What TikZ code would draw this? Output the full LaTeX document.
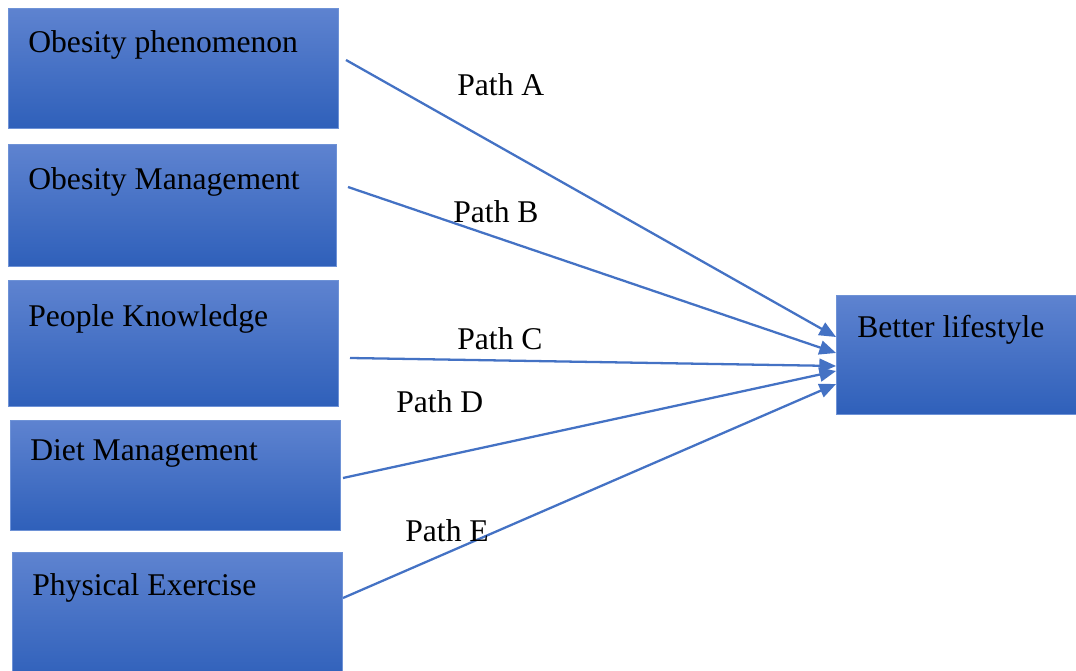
\documentclass[tikz,border=0pt]{standalone}
\usepackage{fontspec}
\setmainfont{Liberation Serif}
\usepackage{xcolor}
\usetikzlibrary{arrows.meta,positioning}

\definecolor{boxtop}{RGB}{94,131,208}
\definecolor{boxbot}{RGB}{47,96,186}
\definecolor{boxline}{RGB}{110,146,214}
\definecolor{pathblue}{RGB}{68,114,196}

\tikzset{
    factor/.style={rectangle, draw=boxline, line width=0.5pt,
        top color=boxtop, bottom color=boxbot, inner sep=0pt},
    boxtext/.style={anchor=base west, inner sep=0pt, font=\fontsize{18}{21}\selectfont},
    pathlabel/.style={anchor=base west, inner sep=0pt, font=\fontsize{18}{21}\selectfont},
    link/.style={draw=pathblue, line width=1.3pt, -{Triangle[length=9.5pt,width=8pt]}}
}

\begin{document}
\begin{tikzpicture}[x=0.02cm, y=-0.02cm]
\useasboundingbox (0,0) rectangle (1076,671);
\clip (0,0) rectangle (1076,671);

% Factor boxes
\node[factor, minimum width=6.6cm, minimum height=2.4cm] (phen) at (173,68) {};
\node[factor, minimum width=6.56cm, minimum height=2.44cm] (mgmt) at (172,205) {};
\node[factor, minimum width=6.6cm, minimum height=2.52cm] (know) at (173,343) {};
\node[factor, minimum width=6.6cm, minimum height=2.2cm] (diet) at (175,475) {};
\node[factor, minimum width=6.6cm, minimum height=2.6cm] (exer) at (177,617) {};
\node[factor, minimum width=4.9cm, minimum height=2.38cm] (life) at (959,354.5) {};

% Box texts
\node[boxtext] (phenT) at (28,53) {Obesity phenomenon};
\node[boxtext] (mgmtT) at (28,190) {Obesity Management};
\node[boxtext] (knowT) at (28,327) {People Knowledge};
\node[boxtext] (dietT) at (30,461) {Diet Management};
\node[boxtext] (exerT) at (32,596) {Physical Exercise};
\node[boxtext] (lifeT) at (857,338) {Better lifestyle};

% Start points of the paths
\coordinate (sA) at (346,60);
\coordinate (sB) at (348,187);
\coordinate (sC) at (350,358);
\coordinate (sD) at (343,478);
\coordinate (sE) at (343,598);

% Paths
\draw[link] (sA) -- (life.west |- 0,337);
\draw[link] (sB) -- (life.west |- 0,353);
\draw[link] (sC) -- (life.west |- 0,366);
\draw[link] (sD) -- (life.west |- 0,371);
\draw[link] (sE) -- (life.west |- 0,384);

% Path labels
\node[pathlabel] (labA) at (457,96) {Path A};
\node[pathlabel] (labB) at (453,223) {Path B};
\node[pathlabel] (labC) at (457,350) {Path C};
\node[pathlabel] (labD) at (396,413) {Path D};
\node[pathlabel] (labE) at (405,542) {Path E};

\end{tikzpicture}
\end{document}
